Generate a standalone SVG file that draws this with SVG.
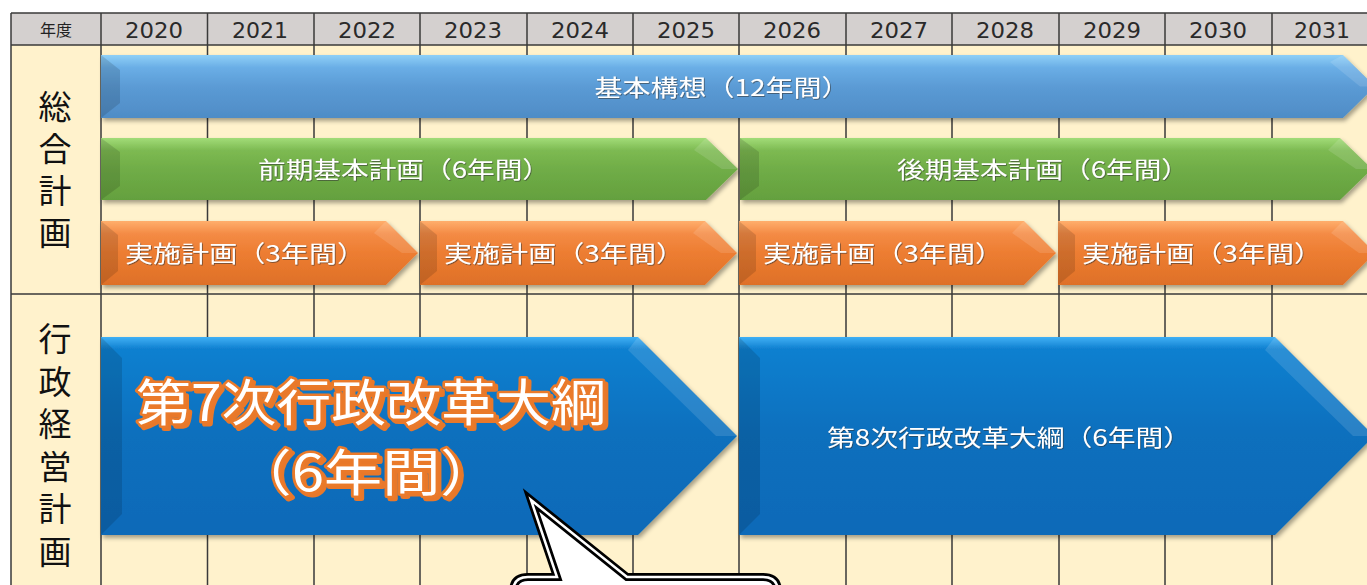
<svg xmlns="http://www.w3.org/2000/svg" width="1367" height="585" viewBox="0 0 1367 585">
<style>
.grid{stroke:#3a3a3a;stroke-width:1.5;fill:none}
.yr{font-family:"DejaVu Sans","Noto Sans",sans-serif;font-size:21px;fill:#2a2a2a;text-anchor:middle}
.hd{font-family:"Noto Sans CJK JP",sans-serif;font-size:16px;fill:#222;text-anchor:middle}
.side{font-family:"Noto Sans CJK JP",sans-serif;font-size:33px;fill:#111;writing-mode:tb;glyph-orientation-vertical:0}
.lbl{font-family:"Noto Sans CJK JP",sans-serif;font-size:23px;fill:#fff;filter:url(#ts)}
.big{font-family:"Noto Sans CJK JP",sans-serif;font-size:50px;font-weight:normal;fill:#fff;stroke:#ea7a2a;stroke-width:5;stroke-linejoin:round;paint-order:stroke;text-anchor:middle;filter:url(#osh)}
.arr{filter:url(#sh)}
.bevL{fill:#000;opacity:0.13}
.bevR{fill:#fff;opacity:0.12}
</style>
<defs>
<filter id="sh" x="-5%" y="-20%" width="110%" height="150%">
<feDropShadow dx="2" dy="3" stdDeviation="2" flood-color="#000" flood-opacity="0.35"/>
</filter>
<filter id="ts" x="-5%" y="-20%" width="110%" height="150%">
<feDropShadow dx="0.8" dy="0.8" stdDeviation="0.4" flood-color="#333" flood-opacity="0.7"/>
</filter>
<filter id="osh" x="-5%" y="-20%" width="110%" height="150%">
<feDropShadow dx="3" dy="3" stdDeviation="0.6" flood-color="#e8782a" flood-opacity="1"/>
</filter>
<linearGradient id="gBlue" x1="0" y1="0" x2="0" y2="1">
<stop offset="0" stop-color="#8fd0f7"/><stop offset="0.2" stop-color="#6aaee6"/><stop offset="0.5" stop-color="#5b9bd5"/><stop offset="1" stop-color="#4f8cc6"/>
</linearGradient>
<linearGradient id="gGreen" x1="0" y1="0" x2="0" y2="1">
<stop offset="0" stop-color="#a2dc78"/><stop offset="0.2" stop-color="#7dba52"/><stop offset="0.5" stop-color="#70ad47"/><stop offset="1" stop-color="#64a03e"/>
</linearGradient>
<linearGradient id="gOrange" x1="0" y1="0" x2="0" y2="1">
<stop offset="0" stop-color="#ffae6c"/><stop offset="0.2" stop-color="#f48b45"/><stop offset="0.5" stop-color="#ed7d31"/><stop offset="1" stop-color="#de7028"/>
</linearGradient>
<linearGradient id="gDark" x1="0" y1="0" x2="0" y2="1">
<stop offset="0" stop-color="#3fb0f5"/><stop offset="0.06" stop-color="#1080d0"/><stop offset="0.5" stop-color="#0b6fbd"/><stop offset="1" stop-color="#0a6ab8"/>
</linearGradient>
</defs>

<g id="table">
<rect x="11" y="13" width="1370" height="32" fill="#d4d0cf"/>
<rect x="11" y="45" width="1370" height="545" fill="#fff2cc"/>
<path class="grid" d="M11,13H1367M11,45H1367M11,294H1367M11,13V585M101,13V585M207.5,13V585M314,13V585M420,13V585M527,13V585M633,13V585M739,13V585M846,13V585M952,13V585M1059,13V585M1165,13V585M1272,13V585"/>
<text class="hd" x="56" y="36">年度</text>
<text class="yr" x="154" y="38" textLength="58" lengthAdjust="spacingAndGlyphs">2020</text>
<text class="yr" x="260" y="38" textLength="56" lengthAdjust="spacingAndGlyphs">2021</text>
<text class="yr" x="367" y="38" textLength="58" lengthAdjust="spacingAndGlyphs">2022</text>
<text class="yr" x="473" y="38" textLength="58" lengthAdjust="spacingAndGlyphs">2023</text>
<text class="yr" x="580" y="38" textLength="58" lengthAdjust="spacingAndGlyphs">2024</text>
<text class="yr" x="686" y="38" textLength="58" lengthAdjust="spacingAndGlyphs">2025</text>
<text class="yr" x="792" y="38" textLength="58" lengthAdjust="spacingAndGlyphs">2026</text>
<text class="yr" x="899" y="38" textLength="58" lengthAdjust="spacingAndGlyphs">2027</text>
<text class="yr" x="1005" y="38" textLength="58" lengthAdjust="spacingAndGlyphs">2028</text>
<text class="yr" x="1112" y="38" textLength="58" lengthAdjust="spacingAndGlyphs">2029</text>
<text class="yr" x="1218" y="38" textLength="58" lengthAdjust="spacingAndGlyphs">2030</text>
<text class="yr" x="1322" y="38" textLength="56" lengthAdjust="spacingAndGlyphs">2031</text>
</g>

<g id="label-sogo">
<text class="side" x="55" y="90" letter-spacing="9">総合計画</text>
</g>
<g id="label-gyosei">
<text class="side" x="55" y="322" letter-spacing="9.6">行政経営計画</text>
</g>

<g id="kihon-koso">
<polygon class="arr" fill="url(#gBlue)" points="101,55 1343,55 1375,86.5 1343,118 101,118"/>
<polygon class="bevL" points="101,55 120,70 120,103 101,118"/>
<polygon class="bevR" points="1343,55 1375,86.5 1360,86.5 1330,62"/>
<text class="lbl" x="722" y="96" text-anchor="middle" textLength="255" lengthAdjust="spacingAndGlyphs">基本構想（12年間）</text>
</g>

<g id="zenki">
<polygon class="arr" fill="url(#gGreen)" points="101,138 706,138 738,169 706,200 101,200"/>
<polygon class="bevL" points="101,138 120,152 120,186 101,200"/>
<polygon class="bevR" points="706,138 738,169 722,169 694,150"/>
<text class="lbl" x="404" y="178" text-anchor="middle" textLength="292" lengthAdjust="spacingAndGlyphs">前期基本計画（6年間）</text>
</g>
<g id="koki">
<polygon class="arr" fill="url(#gGreen)" points="740,138 1340,138 1372,169 1340,200 740,200"/>
<polygon class="bevL" points="740,138 759,152 759,186 740,200"/>
<polygon class="bevR" points="1340,138 1372,169 1356,169 1328,150"/>
<text class="lbl" x="1043" y="178" text-anchor="middle" textLength="292" lengthAdjust="spacingAndGlyphs">後期基本計画（6年間）</text>
</g>

<g id="jisshi-1">
<polygon class="arr" fill="url(#gOrange)" points="101,221 386,221 418,253 386,285 101,285"/>
<polygon class="bevL" points="101,221 118,235 118,271 101,285"/>
<polygon class="bevR" points="386,221 418,253 402,253 374,233"/>
<text class="lbl" x="125" y="262" textLength="240" lengthAdjust="spacingAndGlyphs">実施計画（3年間）</text>
</g>
<g id="jisshi-2">
<polygon class="arr" fill="url(#gOrange)" points="420,221 705,221 737,253 705,285 420,285"/>
<polygon class="bevL" points="420,221 437,235 437,271 420,285"/>
<polygon class="bevR" points="705,221 737,253 721,253 693,233"/>
<text class="lbl" x="444" y="262" textLength="240" lengthAdjust="spacingAndGlyphs">実施計画（3年間）</text>
</g>
<g id="jisshi-3">
<polygon class="arr" fill="url(#gOrange)" points="739,221 1024,221 1056,253 1024,285 739,285"/>
<polygon class="bevL" points="739,221 756,235 756,271 739,285"/>
<polygon class="bevR" points="1024,221 1056,253 1040,253 1012,233"/>
<text class="lbl" x="763" y="262" textLength="240" lengthAdjust="spacingAndGlyphs">実施計画（3年間）</text>
</g>
<g id="jisshi-4">
<polygon class="arr" fill="url(#gOrange)" points="1058,221 1343,221 1375,253 1343,285 1058,285"/>
<polygon class="bevL" points="1058,221 1075,235 1075,271 1058,285"/>
<polygon class="bevR" points="1343,221 1375,253 1359,253 1331,233"/>
<text class="lbl" x="1082" y="262" textLength="240" lengthAdjust="spacingAndGlyphs">実施計画（3年間）</text>
</g>

<g id="taiko-7">
<polygon class="arr" fill="url(#gDark)" points="101,337 638,337 737,436 638,535 101,535"/>
<polygon class="bevL" points="101,337 122,358 122,514 101,535"/>
<polygon class="bevR" points="638,337 737,436 716,436 628,350"/>
<text class="big" x="371" y="421" textLength="470" lengthAdjust="spacingAndGlyphs">第7次行政改革大綱</text>
<text class="big" x="366" y="491" textLength="265" lengthAdjust="spacingAndGlyphs">（6年間）</text>
</g>
<g id="taiko-8">
<polygon class="arr" fill="url(#gDark)" points="739,337 1275,337 1374,436 1275,535 739,535"/>
<polygon class="bevL" points="739,337 760,358 760,514 739,535"/>
<polygon class="bevR" points="1275,337 1374,436 1353,436 1265,350"/>
<text class="lbl" x="1009" y="446" text-anchor="middle" textLength="364" lengthAdjust="spacingAndGlyphs">第8次行政改革大綱（6年間）</text>
</g>

<g id="callout">
<path d="M513,600V592Q513,577 528,577H557L531,500L627,577H763Q778,577 778,592V600Z" fill="#fff" stroke="#000" stroke-width="8" stroke-linejoin="miter"/>
<path d="M513,600V592Q513,577 528,577H557L531,500L627,577H763Q778,577 778,592V600Z" fill="none" stroke="#fff" stroke-width="2.5"/>
</g>
</svg>
